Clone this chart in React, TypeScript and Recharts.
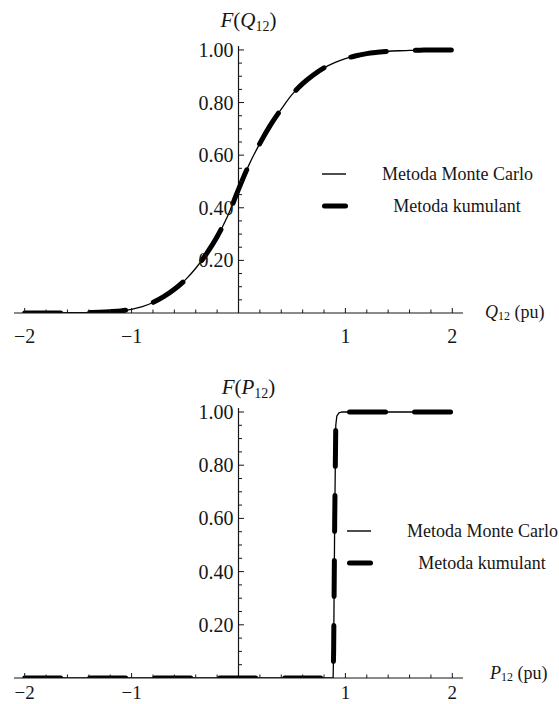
import React from "react";
import { LineChart, Line, XAxis, YAxis, ReferenceLine, ReferenceDot, Legend } from "recharts";

// F(Q12): rozkład skumulowany mocy biernej
const qX = [-2, -1.9, -1.8, -1.7, -1.6, -1.5, -1.4, -1.3, -1.2, -1.1, -1, -0.9, -0.8, -0.7, -0.6, -0.5, -0.4, -0.3, -0.2, -0.1, 0, 0.1, 0.2, 0.3, 0.4, 0.5, 0.6, 0.7, 0.8, 0.9, 1, 1.1, 1.2, 1.3, 1.4, 1.5, 1.6, 1.7, 1.8, 1.9, 2];
const qMonteCarlo = [0, 0, 0, 0, 0.001, 0.001, 0.002, 0.003, 0.005, 0.008, 0.014, 0.024, 0.04, 0.062, 0.09, 0.125, 0.17, 0.225, 0.29, 0.37, 0.47, 0.565, 0.645, 0.715, 0.775, 0.83, 0.872, 0.905, 0.932, 0.952, 0.967, 0.978, 0.986, 0.991, 0.995, 0.997, 0.998, 0.999, 1, 1, 1];
const qKumulant = [0, 0, 0, 0, 0.001, 0.001, 0.002, 0.003, 0.005, 0.008, 0.014, 0.024, 0.04, 0.062, 0.09, 0.125, 0.17, 0.225, 0.29, 0.37, 0.47, 0.565, 0.645, 0.715, 0.775, 0.83, 0.872, 0.905, 0.932, 0.952, 0.967, 0.978, 0.986, 0.991, 0.995, 0.997, 0.998, 0.999, 1, 1, 1];

// F(P12): rozkład skumulowany mocy czynnej
const pX = [-2, -1.5, -1, -0.5, 0, 0.5, 0.885, 0.89, 0.9, 0.91, 0.92, 0.94, 0.97, 1.5, 2];
const pMonteCarlo = [0, 0, 0, 0, 0, 0, 0, 0.1, 0.6, 0.95, 0.985, 0.997, 1, 1, 1];
const pKumulant = [0, 0, 0, 0, 0, 0, 0, 0.1, 0.6, 0.95, 0.985, 0.997, 1, 1, 1];

const seriesNames = ["Metoda Monte Carlo", "Metoda kumulant"];

const xTicks = [-2, -1.8, -1.6, -1.4, -1.2, -1, -0.8, -0.6, -0.4, -0.2, 0, 0.2, 0.4, 0.6, 0.8, 1, 1.2, 1.4, 1.6, 1.8, 2];
const xMajor = [-2, -1, 1, 2];
const xMajorLabels = ["\u22122", "\u22121", "1", "2"];
const yMajor = [0.2, 0.4, 0.6, 0.8, 1.0];
const yMajorLabels = ["0.20", "0.40", "0.60", "0.80", "1.00"];
const yMinor = [0.05, 0.1, 0.15, 0.25, 0.3, 0.35, 0.45, 0.5, 0.55, 0.65, 0.7, 0.75, 0.85, 0.9, 0.95];

const FONT = "'Liberation Serif', 'DejaVu Serif', serif";
const INK = "#161616";

function XTick(props: any) {
  const { x, y, payload, labelDy, labelSize } = props;
  const i = xMajor.findIndex((m) => Math.abs(m - payload.value) < 1e-6);
  if (Math.abs(payload.value) < 1e-6) return <g />;
  return (
    <g>
      <line x1={x} x2={x} y1={y} y2={y - (i >= 0 ? 5 : 3.5)} stroke={INK} strokeWidth={1} />
      {i >= 0 && (
        <text x={x} y={y + labelDy} textAnchor="middle" dominantBaseline="central" fontSize={labelSize} fontFamily={FONT} fill={INK}>
          {xMajorLabels[i]}
        </text>
      )}
    </g>
  );
}

function LegendBox({ payload }: any) {
  return (
    <div style={{ fontFamily: FONT, fontSize: 18, color: INK }}>
      {(payload || []).map((e: any, i: number) => (
        <div key={i} style={{ display: "flex", alignItems: "center", height: 32 }}>
          <svg width={60} height={10} style={{ display: "block" }}>
            {i === 0 ? (
              <line x1={0} x2={24} y1={5} y2={5} stroke="#000" strokeWidth={1.4} />
            ) : (
              <line x1={2.5} x2={23.5} y1={5} y2={5} stroke="#000" strokeWidth={5} strokeLinecap="round" />
            )}
          </svg>
          <div style={{ width: 150, textAlign: "center", whiteSpace: "nowrap" }}>{e.value}</div>
        </div>
      ))}
    </div>
  );
}

interface PanelProps {
  xs: number[];
  mc: number[];
  kum: number[];
  letter: string;
  margin: { top: number; right: number; bottom: number; left: number };
  xAxisHeight: number;
  tickLabelDy: number;
  tickLabelSize: number;
  titleDy: number;
  unitDy: number;
  unitDx: number;
  legendTop: number;
  legendLeft: number;
  curve: "monotone" | "linear";
}

function Panel(p: PanelProps) {
  const data = p.xs.map((x, i) => ({ x, mc: p.mc[i], kum: p.kum[i] }));
  return (
    <LineChart width={559} height={352} data={data} margin={p.margin} style={{ overflow: "visible" }}>
      <XAxis
        dataKey="x"
        type="number"
        domain={[-2.1, 2.1]}
        ticks={xTicks}
        interval={0}
        tick={<XTick labelDy={p.tickLabelDy} labelSize={p.tickLabelSize} />}
        tickLine={false}
        tickSize={0}
        tickMargin={0}
        height={p.xAxisHeight}
        axisLine={{ stroke: INK, strokeWidth: 1.2 }}
        allowDataOverflow
      />
      <YAxis type="number" domain={[0, 1.015]} hide allowDataOverflow />
      <ReferenceLine x={0} stroke={INK} strokeWidth={1.2} />
      {yMinor.map((v) => (
        <ReferenceDot
          key={"m" + v}
          x={0}
          y={v}
          ifOverflow="visible"
          shape={(s: any) => <line x1={s.cx} x2={s.cx + 3.5} y1={s.cy} y2={s.cy} stroke={INK} strokeWidth={1} />}
        />
      ))}
      {yMajor.map((v, i) => (
        <ReferenceDot
          key={"M" + v}
          x={0}
          y={v}
          ifOverflow="visible"
          shape={(s: any) => (
            <g>
              <line x1={s.cx} x2={s.cx + 5.5} y1={s.cy} y2={s.cy} stroke={INK} strokeWidth={1} />
              <text x={s.cx - 5} y={s.cy} textAnchor="end" dominantBaseline="central" fontSize={20} fontFamily={FONT} fill={INK}>
                {yMajorLabels[i]}
              </text>
            </g>
          )}
        />
      ))}
      <ReferenceDot
        x={0}
        y={1.015}
        ifOverflow="visible"
        shape={(s: any) => (
          <text x={s.cx + 10} y={s.cy + p.titleDy} textAnchor="middle" fontSize={21} fontFamily={FONT} fill={INK}>
            <tspan fontStyle="italic">F</tspan>
            <tspan>(</tspan>
            <tspan fontStyle="italic">{p.letter}</tspan>
            <tspan fontSize={14} dy={4}>12</tspan>
            <tspan dy={-4}>)</tspan>
          </text>
        )}
      />
      <ReferenceDot
        x={2.1}
        y={0}
        ifOverflow="visible"
        shape={(s: any) => (
          <text x={s.cx + p.unitDx} y={s.cy + p.unitDy} fontSize={18} fontFamily={FONT} fill={INK}>
            <tspan fontStyle="italic">{p.letter}</tspan>
            <tspan fontSize={12} dy={2}>12</tspan>
            <tspan dy={-2}> (pu)</tspan>
          </text>
        )}
      />
      <Legend
        layout="vertical"
        align="center"
        verticalAlign="middle"
        content={<LegendBox />}
        wrapperStyle={{ top: p.legendTop, left: p.legendLeft, width: 220 }}
      />
      <Line
        type={p.curve}
        dataKey="mc"
        name={seriesNames[0]}
        stroke="#000"
        strokeWidth={1.3}
        dot={false}
        activeDot={false}
        isAnimationActive={false}
      />
      <Line
        type={p.curve}
        dataKey="kum"
        name={seriesNames[1]}
        stroke="#000"
        strokeWidth={5}
        strokeDasharray="36 29"
        strokeLinecap="round"
        strokeLinejoin="round"
        dot={false}
        activeDot={false}
        isAnimationActive={false}
      />
    </LineChart>
  );
}

export default function App() {
  return (
    <div style={{ position: "absolute", left: 0, top: 0, width: 559, height: 704, background: "#fff" }}>
      <Panel
        xs={qX}
        mc={qMonteCarlo}
        kum={qKumulant}
        letter="Q"
        margin={{ top: 46, right: 96, bottom: 9, left: 14 }}
        xAxisHeight={30}
        tickLabelDy={23}
        tickLabelSize={20}
        titleDy={-19}
        unitDy={5}
        unitDx={22}
        legendTop={158}
        legendLeft={322}
        curve="monotone"
      />
      <Panel
        xs={pX}
        mc={pMonteCarlo}
        kum={pKumulant}
        letter="P"
        margin={{ top: 56, right: 96, bottom: 0, left: 14 }}
        xAxisHeight={26}
        tickLabelDy={14}
        tickLabelSize={19}
        titleDy={-14}
        unitDy={1}
        unitDx={27}
        legendTop={163}
        legendLeft={347}
        curve="linear"
      />
    </div>
  );
}
